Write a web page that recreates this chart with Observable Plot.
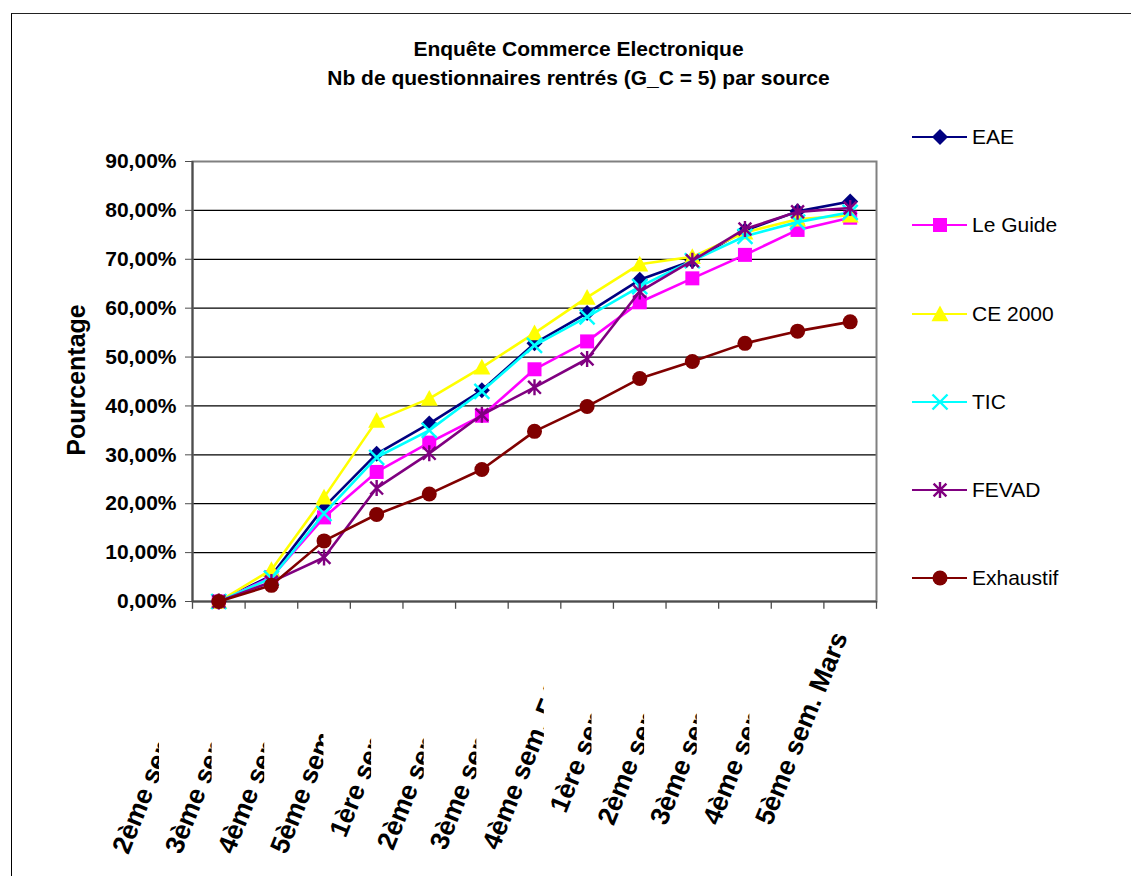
<!DOCTYPE html>
<html><head><meta charset="utf-8">
<script src="https://cdn.jsdelivr.net/npm/d3@7"></script>
<script src="https://cdn.jsdelivr.net/npm/@observablehq/plot@0.6"></script>
<style>
html,body{margin:0;padding:0;background:#fff;}
#page{position:relative;width:1131px;height:876px;overflow:hidden;font-family:"Liberation Sans",Arial,sans-serif;color:#000;background:#fff;}
#border{position:absolute;left:11px;top:13px;width:1300px;height:1000px;border-left:1px solid #000;border-top:1.5px solid #222;}
#chart{position:absolute;left:0;top:0;}
#title{position:absolute;left:0;top:34px;width:1157px;text-align:center;font-weight:bold;font-size:21px;line-height:29px;}
#ytitle{position:absolute;left:76px;top:380px;transform:translate(-50%,-50%) rotate(-90deg);font-weight:bold;font-size:25px;white-space:nowrap;}
#legend{position:absolute;left:912px;top:125px;display:flex;flex-direction:column;}
.item{height:88.3px;display:flex;align-items:flex-start;}
.item svg{display:block;}
.item span{font-size:21px;line-height:24px;margin-left:0;}
</style>
</head>
<body>
<div id="page">
  <div id="border"></div>
  <div id="chart"></div>
  <div id="title">Enquête Commerce Electronique<br>Nb de questionnaires rentrés (G_C = 5) par source</div>
  <div id="ytitle">Pourcentage</div>
  <div id="legend"></div>
</div>
<script>
// ---- data ----
const categories = ["2ème sem. Janvier","3ème sem. Janvier","4ème sem. Janvier","5ème sem. Janvier","1ère sem. Février","2ème sem. Février","3ème sem. Février","4ème sem. Février","1ère sem. Mars","2ème sem. Mars","3ème sem. Mars","4ème sem. Mars","5ème sem. Mars"];
const seriesNames = ["EAE","Le Guide","CE 2000","TIC","FEVAD","Exhaustif"];
const seriesColors = ["#000080","#FF00FF","#FFFF00","#00FFFF","#800080","#800000"];
const EAE       = [0, 0.053, 0.193, 0.302, 0.364, 0.432, 0.528, 0.590, 0.658, 0.697, 0.759, 0.798, 0.818];
const LeGuide   = [0, 0.050, 0.172, 0.265, 0.325, 0.380, 0.475, 0.532, 0.612, 0.661, 0.709, 0.760, 0.785];
const CE2000    = [0, 0.065, 0.213, 0.370, 0.415, 0.479, 0.549, 0.622, 0.690, 0.705, 0.755, 0.782, 0.790];
const TIC       = [0, 0.048, 0.180, 0.295, 0.350, 0.430, 0.524, 0.582, 0.644, 0.697, 0.747, 0.776, 0.796];
const FEVAD     = [0, 0.040, 0.090, 0.232, 0.303, 0.382, 0.438, 0.496, 0.634, 0.697, 0.762, 0.797, 0.805];
const Exhaustif = [0, 0.033, 0.124, 0.178, 0.220, 0.270, 0.348, 0.399, 0.456, 0.491, 0.528, 0.553, 0.572];
const yTicks = [0, 0.1, 0.2, 0.3, 0.4, 0.5, 0.6, 0.7, 0.8, 0.9];

// ---- symbols (Excel-like markers) ----
const R = s => Math.sqrt(s / Math.PI);
const symDiamond = {draw(c, s){const r=R(s); c.moveTo(0,-r); c.lineTo(r,0); c.lineTo(0,r); c.lineTo(-r,0); c.closePath();}};
const symSquare = {draw(c, s){const r=R(s); c.moveTo(-r,-r); c.lineTo(r,-r); c.lineTo(r,r); c.lineTo(-r,r); c.closePath();}};
const symTriangle = {draw(c, s){const r=R(s); c.moveTo(0,-r); c.lineTo(r,r*0.85); c.lineTo(-r,r*0.85); c.closePath();}};
const symTimes = {draw(c, s){const r=R(s); c.moveTo(-r,-r); c.lineTo(r,r); c.moveTo(-r,r); c.lineTo(r,-r);}};
const symAsterisk = {draw(c, s){const r=R(s); c.moveTo(-r*0.8,-r*0.8); c.lineTo(r*0.8,r*0.8); c.moveTo(-r*0.8,r*0.8); c.lineTo(r*0.8,-r*0.8); c.moveTo(0,-r); c.lineTo(0,r);}};
const symCircle = {draw(c, s){const r=R(s); c.moveTo(r,0); c.arc(0,0,r,0,2*Math.PI);}};

const series = [
  {name: seriesNames[0], color: seriesColors[0], values: EAE, symbol: symDiamond, r: 8, filled: true},
  {name: seriesNames[1], color: seriesColors[1], values: LeGuide, symbol: symSquare, r: 7, filled: true},
  {name: seriesNames[2], color: seriesColors[2], values: CE2000, symbol: symTriangle, r: 8.5, filled: true},
  {name: seriesNames[3], color: seriesColors[3], values: TIC, symbol: symTimes, r: 7.5, filled: false},
  {name: seriesNames[4], color: seriesColors[4], values: FEVAD, symbol: symAsterisk, r: 8, filled: false},
  {name: seriesNames[5], color: seriesColors[5], values: Exhaustif, symbol: symCircle, r: 7.5, filled: true}
];

const xDomain = [-0.5, categories.length - 0.5];
const boundaries = d3.range(categories.length + 1).map(i => i - 0.5);
const labelRows = categories.map((t, i) => ({i, t}));
const fmt = d => d3.format(".2%")(d).replace(".", ",");
const axisColor = "#4d4d4d";

const seriesMarks = series.flatMap(s => {
  const rows = s.values.map((v, i) => ({i, v}));
  return [
    Plot.line(rows, {x: "i", y: "v", stroke: s.color, strokeWidth: 2.6}),
    Plot.dot(rows, s.filled
      ? {x: "i", y: "v", symbol: s.symbol, r: s.r, fill: s.color, stroke: "none"}
      : {x: "i", y: "v", symbol: s.symbol, r: s.r, fill: "none", stroke: s.color, strokeWidth: 2.4})
  ];
});

const chart = Plot.plot({
  width: 1131,
  height: 876,
  marginLeft: 192,
  marginRight: 255,
  marginTop: 161,
  marginBottom: 275,
  style: {fontFamily: '"Liberation Sans", Arial, sans-serif', fontSize: "21px", color: "#000", background: "transparent", overflow: "visible"},
  x: {type: "linear", domain: xDomain, axis: null},
  y: {domain: [0, 0.9], axis: null},
  marks: [
    Plot.ruleY(yTicks.filter(v => v > 0 && v < 0.9), {stroke: "#000", strokeWidth: 1.2}),
    Plot.frame({stroke: "#808080", strokeWidth: 2}),
    Plot.ruleX([xDomain[0]], {stroke: axisColor, strokeWidth: 2}),
    Plot.ruleY([0], {stroke: axisColor, strokeWidth: 2}),
    Plot.ruleX(boundaries, {x: d => d, y1: 0, y2: -0.016, stroke: axisColor, strokeWidth: 1.3}),
    Plot.axisY(yTicks, {tickSize: 7, tickPadding: 9, tickFormat: fmt, fontSize: 21, fontWeight: "bold", label: null, stroke: axisColor}),
    ...seriesMarks,
    Plot.text(labelRows, {x: "i", text: "t", frameAnchor: "bottom", dx: -10, dy: 32, rotate: -68, textAnchor: "end", lineAnchor: "middle", fontSize: 26.5, fontWeight: "bold", fill: "#000"})
  ]
});
document.getElementById("chart").appendChild(chart);

// ---- clip overlapping category labels like the original (hidden overlap) ----
(function clipLabels(){
  const svg = chart.tagName.toLowerCase() === "svg" ? chart : chart.querySelector("svg");
  const NS = "http://www.w3.org/2000/svg";
  const texts = Array.from(svg.querySelectorAll('g[aria-label="text"] text'));
  if (!texts.length) return;
  const defs = document.createElementNS(NS, "defs");
  svg.insertBefore(defs, svg.firstChild);
  const inv = svg.getScreenCTM().inverse();
  const starts = texts.map(t => {
    const p = t.getStartPositionOfChar(0);
    return new DOMPoint(p.x, p.y).matrixTransform(t.getScreenCTM()).matrixTransform(inv);
  });
  texts.forEach((t, i) => {
    if (i === texts.length - 1) return;
    const cut = starts[i + 1].x - 22;
    const parent = t.parentNode;
    const local = new DOMPoint(cut, 0).matrixTransform(svg.getScreenCTM()).matrixTransform(parent.getScreenCTM().inverse());
    const cp = document.createElementNS(NS, "clipPath");
    cp.setAttribute("id", "xlclip" + i);
    const rect = document.createElementNS(NS, "rect");
    rect.setAttribute("x", -5000); rect.setAttribute("y", -5000);
    rect.setAttribute("width", local.x + 5000); rect.setAttribute("height", 10000);
    cp.appendChild(rect); defs.appendChild(cp);
    const g = document.createElementNS(NS, "g");
    g.setAttribute("clip-path", "url(#xlclip" + i + ")");
    parent.insertBefore(g, t); g.appendChild(t);
  });
})();

// ---- legend ----
const legend = d3.select("#legend");
series.forEach(s => {
  const item = legend.append("div").attr("class", "item");
  const sv = item.append("svg").attr("width", 60).attr("height", 24);
  sv.append("line").attr("x1", 0).attr("x2", 55).attr("y1", 12).attr("y2", 12).attr("stroke", s.color).attr("stroke-width", 2.2);
  const p = d3.path();
  s.symbol.draw(p, s.r * s.r * Math.PI);
  sv.append("path").attr("d", p.toString()).attr("transform", "translate(28,12)")
    .attr("fill", s.filled ? s.color : "none").attr("stroke", s.filled ? "none" : s.color).attr("stroke-width", 2.4);
  item.append("span").text(s.name);
});
</script>
</body></html>
